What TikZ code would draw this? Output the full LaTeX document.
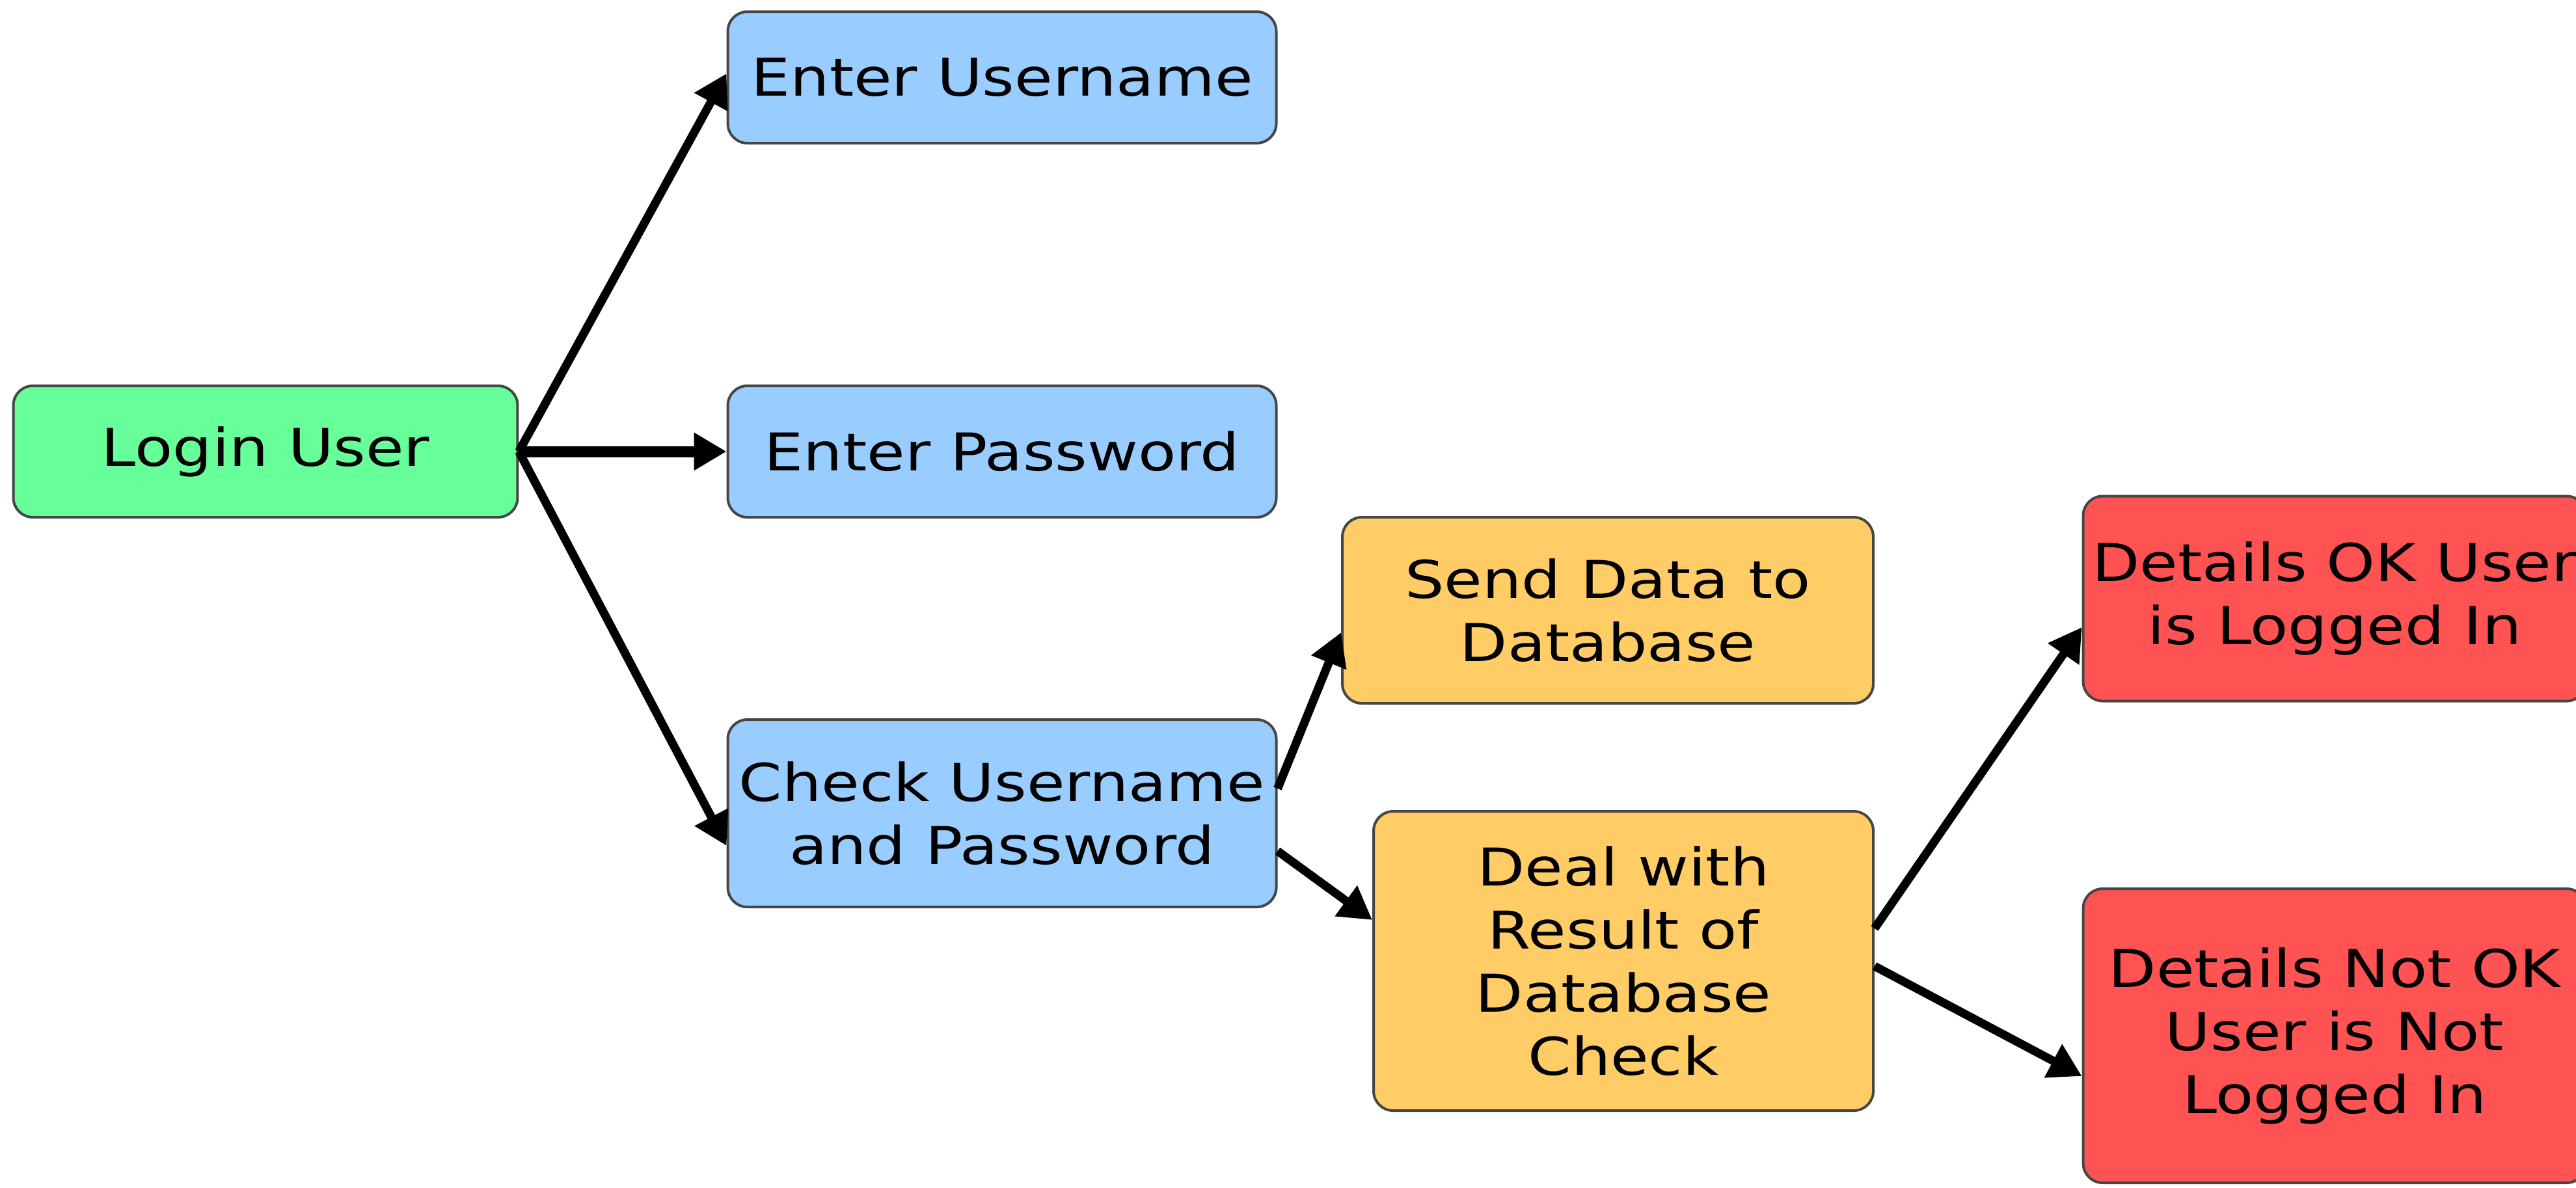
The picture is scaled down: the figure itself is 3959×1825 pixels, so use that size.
\documentclass[tikz,border=0pt]{standalone}
\usepackage{fontspec}
\setmainfont{DejaVu Sans}[FakeStretch=1.19]
\usetikzlibrary{arrows.meta}

\definecolor{loginGreen}{RGB}{102,255,153}
\definecolor{stepBlue}{RGB}{153,204,255}
\definecolor{dbOrange}{RGB}{255,204,102}
\definecolor{resultRed}{RGB}{255,82,82}
\definecolor{edgeGrey}{RGB}{70,70,70}

\tikzset{every picture/.style={line width=0.75pt}}
\tikzset{
  box/.style={draw=edgeGrey, line width=0.4pt, rounded corners=3pt, align=center,
    inner sep=0pt, font=\fontsize{8}{9.7}\selectfont},
  flow/.style={-{Triangle[length=5pt,width=5.5pt]}, line width=1.3pt, black}
}

\begin{document}
\begin{tikzpicture}[x=0.1pt,y=0.1pt,yscale=-1]
\useasboundingbox (0,0) rectangle (3959,1825);

% first level
\node [box, fill=loginGreen, minimum width=77.5pt, minimum height=20.2pt] (login) at (408,694) {Login User};
\node [box, fill=stepBlue, minimum width=84.3pt, minimum height=20.2pt] (user) at (1540,119) {Enter Username};
\node [box, fill=stepBlue, minimum width=84.3pt, minimum height=20.2pt] (pass) at (1540,694) {Enter Password};
\node [box, fill=stepBlue, minimum width=84.3pt, minimum height=28.8pt] (check) at (1540,1250) {Check Username\\and Password};

% database part
\node [box, fill=dbOrange, minimum width=81.6pt, minimum height=28.6pt] (send) at (2471,938) {Send Data to\\Database};
\node [box, fill=dbOrange, minimum width=76.8pt, minimum height=46pt] (deal) at (2495,1477) {Deal with\\Result of\\Database\\Check};

% outcome
\node [box, fill=resultRed, minimum width=77.3pt, minimum height=31.5pt] (ok) at (3588,920) {Details OK User\\is Logged In};
\node [box, fill=resultRed, minimum width=77.3pt, minimum height=45.2pt] (notok) at (3588,1592) {Details Not OK\\User is Not\\Logged In};

% arrows (yscale=-1, so a positive yshift goes down)
\draw [flow] (login.east) -- ([yshift=-0.6pt]user.west);
\draw [flow, line width=1.7pt] (login.east) -- (pass.west);
\draw [flow] (login.east) -- ([yshift=5pt]check.west);
\draw [flow] ([yshift=-3.8pt]check.east) -- ([yshift=3.4pt]send.west);
\draw [flow] ([yshift=5.8pt]check.east) -- ([yshift=-6.3pt]deal.west);
\draw [flow] ([yshift=-5pt]deal.east) -- ([yshift=4.4pt]ok.west);
\draw [flow] ([yshift=0.8pt]deal.east) -- ([yshift=6.2pt]notok.west);

\end{tikzpicture}
\end{document}
